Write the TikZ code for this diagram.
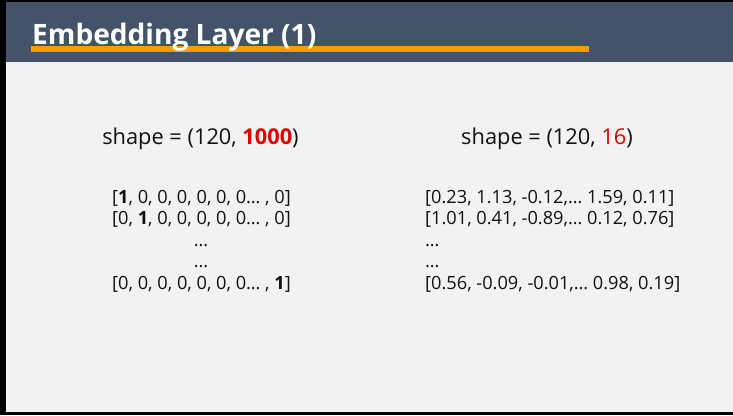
\documentclass[tikz,border=0pt]{standalone}
\usepackage{fontspec}
\setmainfont{Open Sans}
\definecolor{slidebg}{HTML}{F2F2F2}
\definecolor{headbar}{HTML}{44536A}
\definecolor{accent}{HTML}{FF9A00}
\definecolor{hot}{HTML}{E00000}
\definecolor{ink}{HTML}{111111}
\begin{document}
\begin{tikzpicture}[x=1pt,y=-1pt,
  title/.style={anchor=base west,inner sep=0pt,text=white,font=\fontsize{28.1}{32}\selectfont\bfseries},
  shapelbl/.style={anchor=base,inner sep=0pt,text=ink,font=\fontsize{21.8}{25}\selectfont},
  rowtxt/.style={inner sep=0pt,text=ink,font=\fontsize{18.2}{21}\selectfont}]
  % frame and slide area
  \fill[black] (0,0) rectangle (733,415);
  \fill[slidebg] (6,2) rectangle (733,412);
  \useasboundingbox (0,0) rectangle (733,415);
  % header band with accent underline
  \fill[headbar] (6,2) rectangle (733,62);
  \fill[accent] (31,46) rectangle (589,51.5);
  \node[title] (ttl) at (32,44) {Embedding Layer (1)};
  % shape labels
  \node[shapelbl] (shL) at (200.5,144) {shape = (120, \textcolor{hot}{\bfseries 1000})};
  \node[shapelbl] (shR) at (547,144) {shape = (120, \textcolor{hot}{16})};
  % one-hot rows
  \node[rowtxt,anchor=base] (l1) at (201.5,203) {[\textbf{1}, 0, 0, 0, 0, 0, 0… , 0]};
  \node[rowtxt,anchor=base] (l2) at (201.5,224.5) {[0, \textbf{1}, 0, 0, 0, 0, 0… , 0]};
  \node[rowtxt,anchor=base] (l3) at (201,246) {…};
  \node[rowtxt,anchor=base] (l4) at (201,267.5) {…};
  \node[rowtxt,anchor=base] (l5) at (201.5,289) {[0, 0, 0, 0, 0, 0, 0… , \textbf{1}]};
  % embedded rows
  \node[rowtxt,anchor=base west] (r1) at (425,203) {[0.23, 1.13, -0.12,… 1.59, 0.11]};
  \node[rowtxt,anchor=base west] (r2) at (425,224.5) {[1.01, 0.41, -0.89,… 0.12, 0.76]};
  \node[rowtxt,anchor=base west] (r3) at (425,246) {…};
  \node[rowtxt,anchor=base west] (r4) at (425,267.5) {…};
  \node[rowtxt,anchor=base west] (r5) at (425,289) {[0.56, -0.09, -0.01,… 0.98, 0.19]};
\end{tikzpicture}
\end{document}
